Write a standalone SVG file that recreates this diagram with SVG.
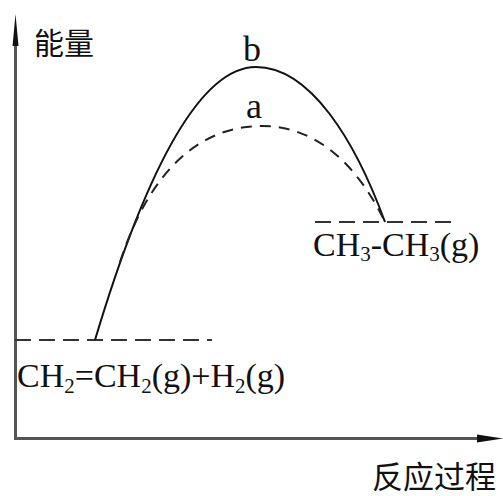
<svg xmlns="http://www.w3.org/2000/svg" width="503" height="496" viewBox="0 0 503 496">
<style>
.axis{stroke:#555;stroke-width:3;fill:none}
.head{fill:#111}
.solid{stroke:#111;stroke-width:2;fill:none}
.dash{stroke:#222;stroke-width:2;fill:none;stroke-dasharray:11 8}
.hdash{stroke:#333;stroke-width:2;fill:none;stroke-dasharray:16 8}
.t{font-family:"Liberation Serif","Times New Roman",serif;fill:#111}
.cjk{font-family:"Noto Sans CJK SC","Noto Sans",sans-serif;fill:#111}
</style>
<rect width="503" height="496" fill="#fff"/>
<g id="axes">
<line class="axis" x1="15.5" y1="40" x2="15.5" y2="439"/>
<line class="axis" x1="14" y1="438.5" x2="482" y2="438.5"/>
<path class="head" d="M15.5 14 L18.5 46 L12.5 46 Z"/>
<path class="head" d="M503 438.5 L477 434.5 L477 442.5 Z"/>
</g>
<g id="axis-labels">
<text class="cjk" x="34" y="54" font-size="30">能量</text>
<text class="cjk" x="372" y="488" font-size="31">反应过程</text>
</g>
<g id="connectors">
<line class="hdash" x1="15" y1="340" x2="212" y2="340"/>
<line class="hdash" x1="315" y1="222" x2="455" y2="222"/>
<path class="solid" d="M95 340 C140 190 195 67 256 67 C310 67 355 140 385 222"/>
<path class="dash" d="M120 262 C150 170 200 126 262 126 C320 126 360 170 385 222"/>
</g>
<g id="curve-labels">
<text class="t" x="243" y="61" font-size="36">b</text>
<text class="t" x="246" y="118" font-size="36">a</text>
</g>
<g id="node-product">
<text class="t" x="313" y="256" font-size="34">CH<tspan font-size="21" dy="5">3</tspan><tspan dy="-5">-CH</tspan><tspan font-size="21" dy="5">3</tspan><tspan dy="-5">(g)</tspan></text>
</g>
<g id="node-reactant">
<text class="t" x="17" y="387" font-size="34">CH<tspan font-size="21" dy="6">2</tspan><tspan dy="-6">=CH</tspan><tspan font-size="21" dy="6">2</tspan><tspan dy="-6">(g)+H</tspan><tspan font-size="21" dy="6">2</tspan><tspan dy="-6">(g)</tspan></text>
</g>
</svg>
